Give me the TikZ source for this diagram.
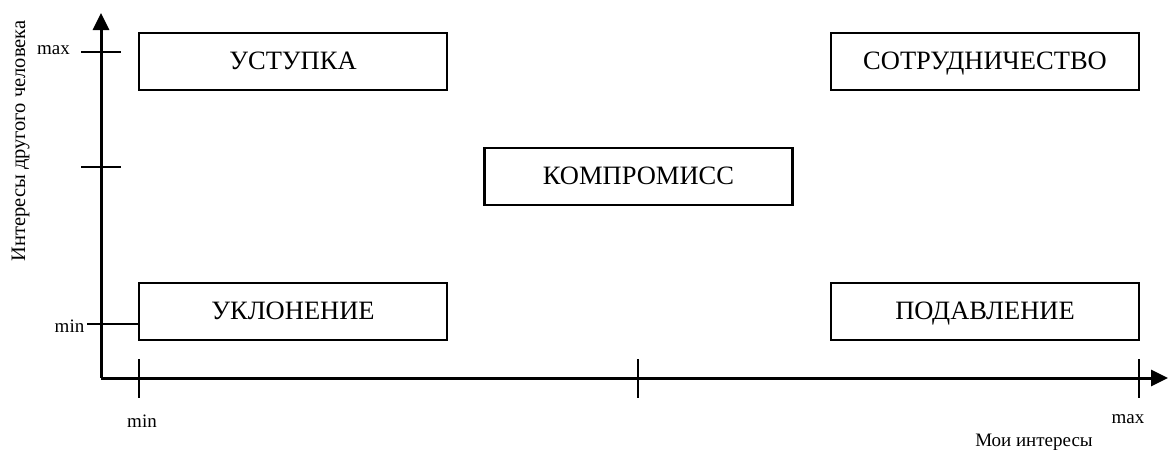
\documentclass[tikz,border=0pt]{standalone}
\usepackage{fontspec}
\setmainfont{Liberation Serif}
\usetikzlibrary{arrows.meta}
\begin{document}
\begin{tikzpicture}[x=1pt,y=-1pt,
  boxst/.style={draw,line width=2.4pt,minimum width=308pt,minimum height=57pt,inner sep=0pt},
  boxtxt/.style={font=\fontsize{26.5}{30}\selectfont,anchor=base,inner sep=0pt},
  lbl/.style={font=\fontsize{19}{22}\selectfont,inner sep=0pt},
  axis/.style={line width=3pt,-{Triangle[length=17pt,width=16pt]}},
  tick/.style={line width=2.4pt}]
\useasboundingbox (0,0) rectangle (1168,450);
% boxes
\node[boxst] (ust) at (293,61.5) {};
\node[boxtxt] (ustT) at (293,69) {УСТУПКА};
\node[boxst] (sot) at (985,61.5) {};
\node[boxtxt] (sotT) at (985,69) {СОТРУДНИЧЕСТВО};
\node[boxst] (kom) at (638.5,176.5) {};
\node[boxtxt] (komT) at (638.5,184) {КОМПРОМИСС};
\node[boxst] (ukl) at (293,311.5) {};
\node[boxtxt] (uklT) at (293,319) {УКЛОНЕНИЕ};
\node[boxst] (pod) at (985,311.5) {};
\node[boxtxt] (podT) at (985,319) {ПОДАВЛЕНИЕ};
% axes
\coordinate (o) at (101,378);
\coordinate (ytip) at (101,13);
\coordinate (xtip) at (1168,378);
\draw[axis] (o) -- (ytip);
\draw[axis] (o) -- (xtip);
% y ticks
\coordinate (ym1) at (81,52); \coordinate (ym2) at (121,52);
\coordinate (yc1) at (81,167); \coordinate (yc2) at (121,167);
\coordinate (yn1) at (87,324);
\draw[tick] (ym1) -- (ym2);
\draw[tick] (yc1) -- (yc2);
\draw[tick] (yn1) -- (ukl.west |- yn1);
% x ticks
\foreach \n/\xx in {a/139,b/638,c/1139}{
  \coordinate (\n1) at (\xx,359); \coordinate (\n2) at (\xx,398);
  \draw[tick] (\n1) -- (\n2);
}
% labels
\node[lbl,anchor=base] (ymax) at (53.5,54) {max};
\node[lbl,anchor=base] (ymin) at (69.5,332) {min};
\node[lbl,anchor=base] (xmin) at (142,427) {min};
\node[lbl,anchor=base] (xmax) at (1128,423) {max};
\node[lbl,anchor=base] (xlab) at (1034,446) {Мои интересы};
\node[lbl,anchor=base,rotate=90,font=\fontsize{20.5}{24}\selectfont] (ylab) at (25,141) {Интересы другого человека};
\end{tikzpicture}
\end{document}
